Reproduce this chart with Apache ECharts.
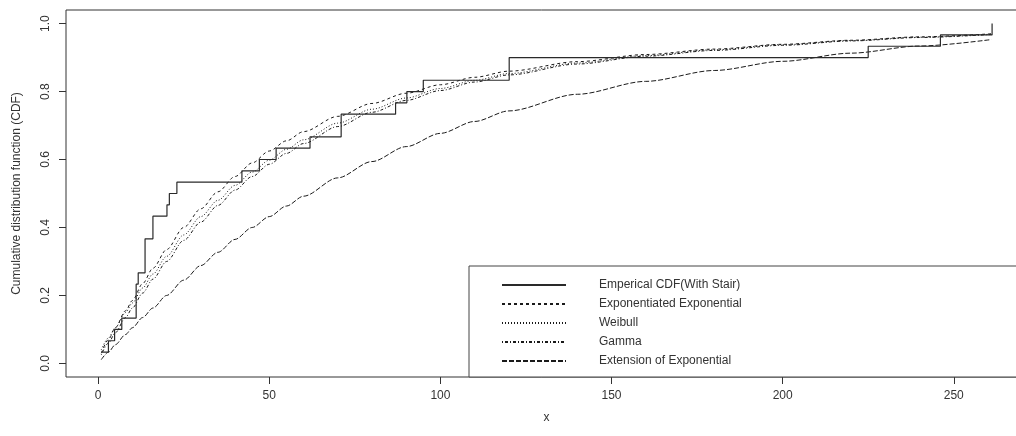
<!DOCTYPE html>
<html>
<head>
<meta charset="utf-8">
<script src="https://cdn.jsdelivr.net/npm/echarts@6/dist/echarts.min.js"></script>
<style>
html,body{margin:0;padding:0;background:#fff;overflow:hidden;}
#c{width:1016px;height:436px;}
</style>
</head>
<body>
<div id="c"></div>
<script>
// Empirical CDF step points (x, cumulative proportion)
var ecdfX = [0.9, 3.0, 4.8, 6.9, 11.1, 11.7, 13.7, 16.0, 20.1, 20.8, 23.0, 42.0, 47.1, 52.0, 61.9, 71.0, 86.9, 90.2, 95.0, 120.1, 225.0, 246.1, 261.2];
var ecdfY = [0.0333, 0.0667, 0.1, 0.1333, 0.2333, 0.2667, 0.3667, 0.4333, 0.4667, 0.5, 0.5333, 0.5667, 0.6, 0.6333, 0.6667, 0.7333, 0.7667, 0.8, 0.8333, 0.9, 0.9333, 0.9667, 1.0];

// Fitted curves, read at these x positions
var fitX = [0.9, 3, 5, 8, 10, 13, 16, 20, 25, 30, 35, 40, 45, 50, 55, 60, 70, 80, 90, 100, 110, 120, 140, 160, 180, 200, 220, 240, 261];
var expExpY = [0.03, 0.07, 0.105, 0.155, 0.185, 0.235, 0.28, 0.335, 0.4, 0.455, 0.505, 0.55, 0.59, 0.625, 0.655, 0.682, 0.727, 0.765, 0.795, 0.82, 0.842, 0.86, 0.888, 0.909, 0.925, 0.939, 0.951, 0.961, 0.97];
var weibullY = [0.04, 0.075, 0.105, 0.15, 0.178, 0.222, 0.263, 0.315, 0.378, 0.432, 0.48, 0.524, 0.563, 0.598, 0.63, 0.658, 0.707, 0.748, 0.781, 0.809, 0.833, 0.853, 0.884, 0.906, 0.923, 0.938, 0.95, 0.96, 0.969];
var gammaY = [0.025, 0.06, 0.09, 0.135, 0.163, 0.207, 0.248, 0.3, 0.362, 0.416, 0.465, 0.51, 0.55, 0.586, 0.618, 0.647, 0.697, 0.739, 0.774, 0.803, 0.828, 0.849, 0.881, 0.904, 0.921, 0.936, 0.949, 0.959, 0.968];
var extExpY = [0.011, 0.033, 0.055, 0.085, 0.105, 0.135, 0.163, 0.2, 0.245, 0.288, 0.327, 0.365, 0.4, 0.432, 0.463, 0.492, 0.546, 0.594, 0.638, 0.677, 0.712, 0.743, 0.792, 0.830, 0.862, 0.889, 0.913, 0.934, 0.953];

var xTicks = [0, 50, 100, 150, 200, 250];
var yTicks = [0, 0.2, 0.4, 0.6, 0.8, 1.0];

var names = ['Emperical CDF(With Stair)', 'Exponentiated Exponential', 'Weibull', 'Gamma', 'Extension of Exponential'];

function pairs(xs, ys) { return xs.map(function (x, i) { return [x, ys[i]]; }); }

var FONT = 'Liberation Sans, Arial, sans-serif';
var chart = echarts.init(document.getElementById('c'), null, {renderer: 'canvas'});

function fitSeries(name, ys, dash) {
  return {
    name: name, type: 'line', data: pairs(fitX, ys),
    showSymbol: false, symbol: 'none', smooth: 0.3, smoothMonotone: 'x',
    lineStyle: {color: '#1a1a1a', width: 1, type: dash},
    itemStyle: {color: '#1a1a1a'},
    animation: false, z: 2
  };
}

chart.setOption({
  animation: false,
  backgroundColor: '#fff',
  grid: {show: true, left: 66, top: 10, width: 961, bottom: 59, outerBoundsMode: 'none', containLabel: false,
    borderColor: '#333', borderWidth: 1, backgroundColor: 'transparent'},
  graphic: [{
    type: 'rect', z: 5, silent: true,
    shape: {x: 469, y: 266, width: 620, height: 111},
    style: {fill: '#fff', stroke: '#444', lineWidth: 1}
  }],
  xAxis: {
    type: 'value', min: -9.4, max: 271.4,
    name: 'x', nameLocation: 'middle', nameGap: 35,
    nameTextStyle: {fontFamily: FONT, fontSize: 12, color: '#333'},
    axisLine: {show: false, onZero: false},
    axisTick: {show: true, length: 7, customValues: xTicks, lineStyle: {color: '#333'}},
    axisLabel: {customValues: xTicks, margin: 13, fontFamily: FONT, fontSize: 12, color: '#333'},
    splitLine: {show: false}
  },
  yAxis: {
    type: 'value', min: -0.04, max: 1.04,
    name: 'Cumulative distribution function (CDF)', nameLocation: 'middle', nameGap: 43, nameRotate: 90,
    nameTextStyle: {fontFamily: FONT, fontSize: 12, color: '#333'},
    axisLine: {show: false, onZero: false},
    axisTick: {show: true, length: 7, customValues: yTicks, lineStyle: {color: '#333'}},
    axisLabel: {customValues: yTicks, rotate: 90, margin: 14, fontFamily: FONT, fontSize: 12, color: '#333',
      formatter: function (v) { return v.toFixed(1); }},
    splitLine: {show: false}
  },
  legend: {
    orient: 'vertical', left: 469, top: 266, z: 8,
    padding: [13, 10, 10, 32],
    itemWidth: 64, itemHeight: 14, itemGap: 7,
    itemStyle: {opacity: 0},
    backgroundColor: 'transparent', borderWidth: 0,
    textStyle: {fontFamily: FONT, fontSize: 12, color: '#333', padding: [0, 0, 0, 28]},
    data: names
  },
  series: [
    {
      name: names[0], type: 'line', step: 'end', data: pairs(ecdfX, ecdfY),
      showSymbol: false, symbol: 'none',
      lineStyle: {color: '#2a2a2a', width: 1.2, type: 'solid'}, itemStyle: {color: '#2a2a2a'}, z: 3
    },
    fitSeries(names[1], expExpY, [3, 3]),
    fitSeries(names[2], weibullY, [1, 2]),
    fitSeries(names[3], gammaY, [1, 2, 3, 2]),
    fitSeries(names[4], extExpY, [5, 2])
  ]
});
</script>
</body>
</html>
